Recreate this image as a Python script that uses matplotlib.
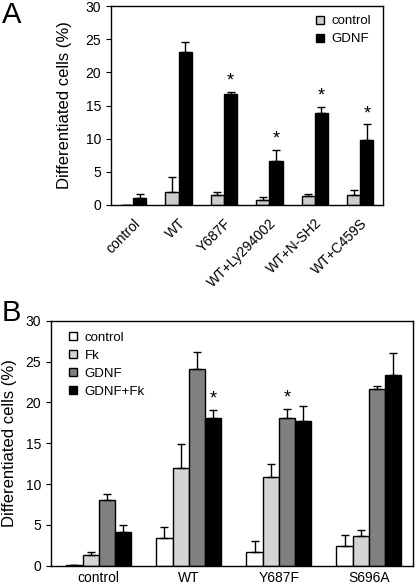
import numpy as np
import matplotlib
matplotlib.use('Agg')
import matplotlib.pyplot as plt

plt.rcParams['font.family'] = ['Liberation Sans', 'DejaVu Sans']

# Panel A
groups_a = ['control', 'WT', 'Y687F', 'WT+Ly294002', 'WT+N-SH2', 'WT+C459S']
ctrl_a = [0.05, 1.9, 1.5, 0.7, 1.3, 1.5]
ctrl_a_err = [0.0, 2.3, 0.5, 0.5, 0.3, 0.8]
gdnf_a = [1.1, 23.0, 16.7, 6.6, 13.8, 9.8]
gdnf_a_err = [0.6, 1.6, 0.4, 1.7, 1.0, 2.4]
star_a = [False, False, True, True, True, True]

# Panel B
groups_b = ['control', 'WT', 'Y687F', 'S696A']
series_b = ['control', 'Fk', 'GDNF', 'GDNF+Fk']
vals_b = [
    [0.05, 3.4, 1.7, 2.4],
    [1.3, 12.0, 10.9, 3.6],
    [8.0, 24.1, 18.1, 21.6],
    [4.1, 18.1, 17.7, 23.3],
]
errs_b = [
    [0.0, 1.3, 1.3, 1.4],
    [0.4, 2.9, 1.5, 0.8],
    [0.8, 2.1, 1.1, 0.4],
    [0.9, 1.0, 1.8, 2.7],
]
stars_b = [
    [False, False, False, False],
    [False, False, False, False],
    [False, False, True, False],
    [False, True, False, False],
]
colors_b = ['white', '#d4d4d4', '#808080', 'black']

fig = plt.figure(figsize=(4.16, 5.86), dpi=100)

err_kw = dict(ecolor='black', elinewidth=1.0, capsize=3, capthick=1.0)
leg_kw = dict(frameon=False, fontsize=9.5, handlelength=0.55, handleheight=0.55,
              handletextpad=0.6, borderaxespad=0.0)

# ---- A ----
axA = fig.add_axes([111 / 416, 1 - 205 / 586, 272 / 416, 199 / 586])
x = np.arange(len(groups_a))
w = 0.29
axA.bar(x - w / 2, ctrl_a, w, color='#cccccc', edgecolor='black', linewidth=1.0,
        yerr=[np.zeros(len(x)), ctrl_a_err], error_kw=err_kw, label='control')
axA.bar(x + w / 2, gdnf_a, w, color='black', edgecolor='black', linewidth=1.0,
        yerr=[np.zeros(len(x)), gdnf_a_err], error_kw=err_kw, label='GDNF')
for i, s in enumerate(star_a):
    if s:
        axA.text(x[i] + w / 2, gdnf_a[i] + gdnf_a_err[i] + 0.3, '*',
                 ha='center', va='bottom', fontsize=13)
axA.set_xlim(-0.49, 5.5)
axA.set_ylim(0, 30)
axA.set_yticks(range(0, 31, 5))
axA.set_xticks(x)
axA.set_xticklabels(groups_a, rotation=45, ha='right', rotation_mode='anchor',
                    fontsize=10)
axA.tick_params(axis='x', length=0, pad=8)
axA.tick_params(axis='y', direction='out', length=3.5, labelsize=10, width=0.8)
axA.set_ylabel('Differentiated cells (%)', fontsize=12)
axA.yaxis.set_label_coords(-0.143, 0.5)
axA.legend(loc='upper left', labelspacing=0.45,
           bbox_to_anchor=(200 / 272, 0.98), **leg_kw)
fig.text(0.005, 0.998, 'A', fontsize=21, ha='left', va='top')

# ---- B ----
axB = fig.add_axes([51 / 416, 1 - 565.7 / 586, 362 / 416, 245 / 586])
xb = np.arange(len(groups_b))
wb = 0.18
for k in range(len(series_b)):
    pos = xb + (k - 1.5) * wb
    axB.bar(pos, vals_b[k], wb, color=colors_b[k], edgecolor='black',
            linewidth=1.0, yerr=[np.zeros(len(xb)), errs_b[k]],
            error_kw=err_kw, label=series_b[k])
    for i in range(len(xb)):
        if stars_b[k][i]:
            axB.text(pos[i], vals_b[k][i] + errs_b[k][i] + 0.3, '*',
                     ha='center', va='bottom', fontsize=13)
axB.set_xlim(-0.53, 3.49)
axB.set_ylim(0, 30)
axB.set_yticks(range(0, 31, 5))
axB.set_xticks(xb)
axB.set_xticklabels(groups_b, fontsize=10)
axB.tick_params(axis='x', length=0, pad=4)
axB.tick_params(axis='y', direction='out', length=3.5, labelsize=10, width=0.8)
axB.set_ylabel('Differentiated cells (%)', fontsize=12)
axB.yaxis.set_label_coords(-0.094, 0.5)
axB.legend(loc='upper left', labelspacing=0.45,
           bbox_to_anchor=(13 / 362, 0.975), **leg_kw)
fig.text(0.005, 1 - 299 / 586, 'B', fontsize=21, ha='left', va='top')

for ax in (axA, axB):
    for sp in ax.spines.values():
        sp.set_linewidth(1.0)

fig.savefig('out.png', dpi=100)
